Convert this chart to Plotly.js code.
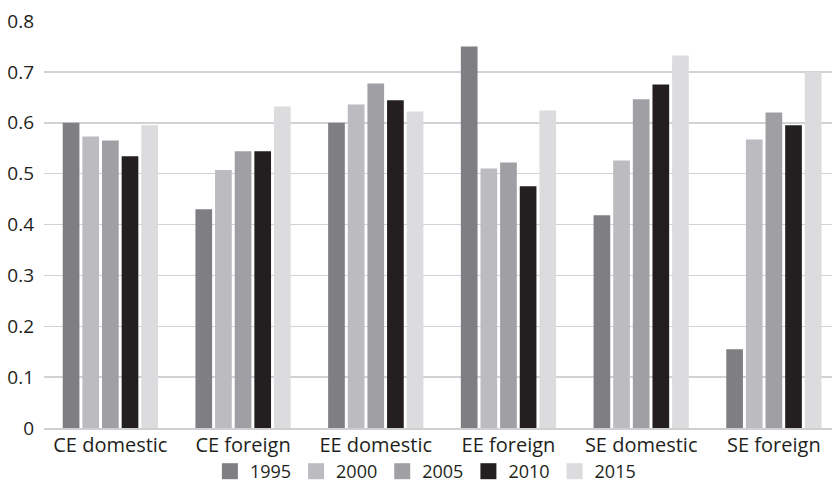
<!DOCTYPE html>
<html>
<head>
<meta charset="utf-8">
<script src="https://cdn.plot.ly/plotly-3.0.1.min.js"></script>
<style>
  html, body { margin: 0; padding: 0; background: #ffffff; }
  #chart { width: 832px; height: 490px; }
</style>
</head>
<body>
<div id="chart"></div>
<script>
// Categories along the x axis
const categories = ['CE domestic', 'CE foreign', 'EE domestic', 'EE foreign', 'SE domestic', 'SE foreign'];

// One series per year
const years = ['1995', '2000', '2005', '2010', '2015'];
const v1995 = [0.600, 0.430, 0.600, 0.750, 0.418, 0.155];
const v2000 = [0.573, 0.507, 0.636, 0.510, 0.526, 0.567];
const v2005 = [0.565, 0.544, 0.677, 0.522, 0.646, 0.620];
const v2010 = [0.534, 0.544, 0.644, 0.475, 0.675, 0.595];
const v2015 = [0.595, 0.632, 0.622, 0.624, 0.732, 0.700];

const seriesValues = [v1995, v2000, v2005, v2010, v2015];
const seriesColors = ['#7f7f83', '#bcbcc0', '#a0a0a4', '#231f20', '#dcdcde'];

const yTicks = [0, 0.1, 0.2, 0.3, 0.4, 0.5, 0.6, 0.7, 0.8];
const yTickText = ['0', '0.1', '0.2', '0.3', '0.4', '0.5', '0.6', '0.7', '0.8'];

const font = '"Open Sans", "DejaVu Sans", sans-serif';
const ink = '#231f20';

// Bars (legend entries come from the square-marker keys below)
const barTraces = years.map((yr, i) => ({
  type: 'bar',
  name: yr,
  x: categories,
  y: seriesValues[i],
  marker: { color: seriesColors[i], line: { width: 0 } },
  showlegend: false,
  legendgroup: yr
}));

// Legend keys: a larger square swatch than the default bar swatch.
// The single point has no y value, so nothing is plotted for it.
const keyTraces = years.map((yr, i) => ({
  type: 'scatter',
  mode: 'markers',
  name: yr,
  x: [categories[0]],
  y: [null],
  marker: { symbol: 'square', size: 16, color: seriesColors[i] },
  legendgroup: yr,
  showlegend: true,
  hoverinfo: 'skip'
}));

const layout = {
  width: 832,
  height: 490,
  margin: { l: 44, r: 0, t: 21, b: 62, pad: 0 },
  paper_bgcolor: '#ffffff',
  plot_bgcolor: '#ffffff',
  barmode: 'group',
  bargap: 0.26,
  bargroupgap: 0.15,
  font: { family: font, size: 18, color: ink },
  xaxis: {
    type: 'category',
    range: [-0.5, 5.438],
    showgrid: false,
    showline: true,
    linecolor: '#cfcfd1',
    linewidth: 2,
    ticks: '',
    ticklabelstandoff: -2,
    tickfont: { family: font, size: 20, color: ink },
    zeroline: false
  },
  yaxis: {
    range: [0, 0.8],
    tickmode: 'array',
    tickvals: yTicks,
    ticktext: yTickText,
    showgrid: true,
    gridcolor: '#d2d2d4',
    gridwidth: 1.5,
    zeroline: false,
    showline: false,
    ticks: '',
    ticklabelstandoff: 9,
    tickfont: { family: font, size: 19, color: ink }
  },
  showlegend: true,
  legend: {
    orientation: 'h',
    x: 0.484,
    xanchor: 'center',
    yref: 'container',
    y: 0,
    yanchor: 'bottom',
    bgcolor: 'rgba(0,0,0,0)',
    font: { family: font, size: 18, color: ink },
    itemwidth: 30,
    traceorder: 'normal'
  }
};

Plotly.newPlot('chart', barTraces.concat(keyTraces), layout, { displayModeBar: false, staticPlot: true });
</script>
</body>
</html>
